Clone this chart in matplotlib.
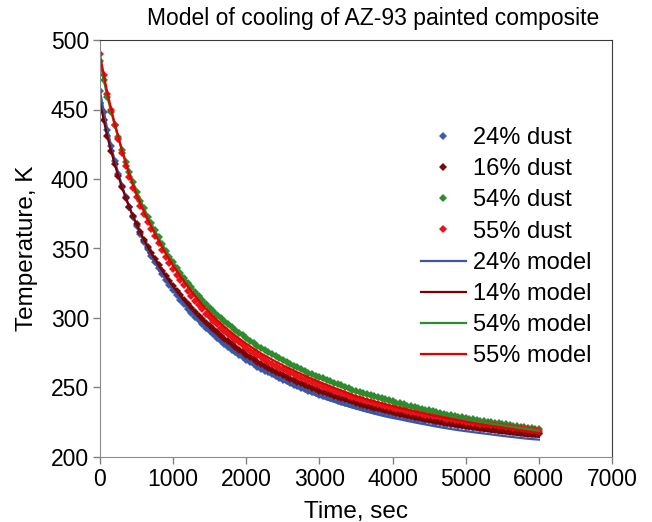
import matplotlib
matplotlib.use("Agg")
import matplotlib.pyplot as plt

plt.rcParams['font.family'] = ['Liberation Sans', 'DejaVu Sans']

# measured points, one every 50 s
time_dust = list(range(0, 6001, 50))
# model curves, one every 100 s
time_model = list(range(0, 6001, 100))

dust_24 = [463, 448.3, 435.4, 423.8, 413.3, 403.7, 395.1, 387.1, 379.7, 372.9,
           366.5, 360.6, 355, 349.7, 344.8, 340.1, 335.7, 331.5, 327.4, 323.6,
           320, 316.5, 313.1, 309.9, 306.8, 303.9, 301, 298.3, 295.6, 293,
           290.5, 288.2, 285.9, 283.7, 281.5, 279.4, 277.3, 275.3, 273.4, 271.6,
           269.8, 268.2, 266.6, 265.1, 263.6, 262.2, 260.8, 259.4, 258.1, 256.8,
           255.6, 254.4, 253.2, 252, 250.9, 249.8, 248.8, 247.8, 246.8, 245.8,
           244.9, 244, 243.1, 242.2, 241.4, 240.6, 239.8, 239, 238.3, 237.5,
           236.8, 236.1, 235.4, 234.7, 234.1, 233.4, 232.8, 232.2, 231.6, 231,
           230.5, 229.9, 229.4, 228.9, 228.4, 227.9, 227.4, 226.9, 226.5, 226,
           225.6, 225.2, 224.8, 224.4, 224, 223.6, 223.2, 222.8, 222.5, 222.1,
           221.8, 221.4, 221.1, 220.8, 220.5, 220.2, 219.9, 219.6, 219.3, 219,
           218.7, 218.4, 218.2, 217.9, 217.7, 217.4, 217.2, 216.9, 216.7, 216.4,
           216.2]

dust_16 = [455, 442.1, 430.6, 420.1, 410.7, 402, 394, 386.5, 379.7, 373.3,
           367.3, 361.6, 356.4, 351.4, 346.7, 342.2, 338, 333.9, 330.1, 326.4,
           322.8, 319.4, 316.2, 313.1, 310.1, 307.2, 304.4, 301.7, 299.1, 296.6,
           294.2, 291.9, 289.6, 287.4, 285.2, 283.1, 281.1, 279.2, 277.3, 275.4,
           273.6, 271.9, 270.3, 268.7, 267.2, 265.7, 264.3, 262.9, 261.5, 260.2,
           258.9, 257.6, 256.4, 255.2, 254.1, 253, 251.9, 250.8, 249.8, 248.8,
           247.8, 246.8, 245.9, 245, 244.1, 243.2, 242.4, 241.6, 240.8, 240,
           239.2, 238.4, 237.7, 237, 236.3, 235.6, 234.9, 234.2, 233.6, 233,
           232.4, 231.8, 231.2, 230.6, 230.1, 229.5, 229, 228.5, 228, 227.5,
           227, 226.5, 226.1, 225.6, 225.2, 224.8, 224.4, 224, 223.6, 223.2,
           222.9, 222.5, 222.2, 221.8, 221.5, 221.2, 220.9, 220.6, 220.3, 220,
           219.7, 219.4, 219.1, 218.8, 218.6, 218.3, 218.1, 217.8, 217.6, 217.3,
           217.1]

dust_54 = [485, 471, 459, 448.5, 439, 430, 421, 412.5, 405, 397.5,
           391, 384.5, 379, 373, 368, 363, 358, 353, 348.5, 344,
           340, 336, 332.5, 329, 325.5, 322, 319, 316, 313, 310,
           307.5, 305, 302.5, 300, 298, 295.5, 293.5, 291.5, 289.5, 287.5,
           285.5, 283.5, 282, 280, 278.5, 277, 275.5, 274, 272.5, 271,
           269.5, 268, 267, 265.5, 264.5, 263, 262, 260.5, 259.5, 258.5,
           257.5, 256.5, 255.5, 254.5, 253.5, 252.5, 251.5, 250.5, 249.5, 248.5,
           247.5, 246.8, 246, 245.2, 244.5, 243.8, 243, 242.2, 241.5, 240.8,
           240, 239.2, 238.5, 237.8, 237, 236.5, 236, 235.2, 234.5, 234,
           233.5, 233, 232.5, 231.8, 231, 230.5, 230, 229.5, 229, 228.5,
           228, 227.5, 227, 226.6, 226.2, 225.8, 225.4, 225, 224.6, 224.2,
           223.8, 223.4, 223, 222.6, 222.2, 221.9, 221.5, 221.2, 220.8, 220.4,
           220]

dust_55 = [490, 475, 461, 449.5, 439, 429, 418.5, 409.5, 401.5, 393.8,
           387, 380.5, 375, 369, 364, 359, 353.8, 348.7, 344.1, 339.5,
           335, 330.8, 327.1, 323.4, 319.6, 315.9, 312.5, 309.3, 306.2, 303.1,
           300.5, 298, 295.5, 293, 291, 288.5, 286.5, 284.5, 282.5, 280.5,
           278.5, 276.5, 275, 273.1, 271.6, 270.1, 268.6, 267.2, 265.7, 264.2,
           263, 261.8, 260.6, 259.4, 258.2, 257, 255.9, 254.8, 253.7, 252.6,
           251.5, 250.6, 249.6, 248.7, 247.7, 246.8, 245.9, 245, 244, 243.1,
           242.3, 241.4, 240.7, 240, 239.3, 238.7, 238, 237.3, 236.7, 236.1,
           235.5, 234.8, 234.2, 233.6, 232.9, 232.5, 232.1, 231.4, 230.9, 230.5,
           230, 229.6, 229.2, 228.6, 228, 227.6, 227.2, 226.8, 226.4, 226,
           225.5, 225.1, 224.7, 224.4, 224.1, 223.8, 223.5, 223.2, 222.9, 222.5,
           222, 221.7, 221.4, 221.1, 220.8, 220.6, 220.3, 220.1, 219.7, 219.4,
           219]

model_24 = [463, 435.4, 413.3, 395.1, 379.7, 366.5, 355, 344.8, 335.7, 327.4,
            320, 313.1, 306.8, 301, 295.6, 290.5, 285.8, 281.3, 277, 273,
            269.3, 266, 262.9, 260, 257.2, 254.6, 252.1, 249.7, 247.5, 245.4,
            243.4, 241.5, 239.7, 238, 236.4, 234.8, 233.3, 231.9, 230.5, 229.2,
            228.1, 227.1, 226, 224.9, 223.9, 222.9, 221.9, 221, 220.1, 219.3,
            218.6, 217.9, 217.2, 216.6, 215.9, 215.2, 214.6, 214, 213.4, 212.9,
            212.5]

model_14 = [455, 430.6, 410.7, 394, 379.7, 367.3, 356.4, 346.7, 338, 330.1,
            322.8, 316.2, 310.1, 304.4, 299.1, 294.2, 289.6, 285.2, 281.1, 277.3,
            273.6, 270, 266.9, 263.9, 261.1, 258.5, 256, 253.7, 251.4, 249.3,
            247.3, 245.2, 243.3, 241.6, 239.9, 238.3, 236.7, 235.2, 233.8, 232.4,
            231.2, 229.9, 228.7, 227.6, 226.6, 225.5, 224.5, 223.5, 222.6, 221.7,
            220.9, 220.1, 219.3, 218.6, 217.9, 217.2, 216.6, 215.9, 215.3, 214.8,
            214.5]

model_54 = [485, 459, 439, 421, 405, 391, 379, 368, 358, 348.5,
            340, 332.5, 325.5, 319, 313, 307.5, 302, 297.5, 293, 289,
            285, 281.5, 278, 275, 272, 269, 266, 263.5, 261, 258.5,
            256.5, 254.5, 252.5, 250.5, 248.5, 246.5, 244.8, 243.3, 241.8, 240.3,
            238.8, 237.4, 236.1, 234.9, 233.7, 232.5, 231.4, 230.3, 229.2, 228.1,
            227, 226.1, 225.2, 224.4, 223.6, 222.8, 222, 221.2, 220.5, 219.8,
            219]

model_55 = [489, 462, 440, 420.5, 403.5, 389, 376.8, 365.8, 355.8, 346.4,
            337.8, 330, 322.7, 315.9, 309.5, 303.7, 298.5, 293.8, 289.4, 285.3,
            281.5, 278, 274.6, 271.6, 268.7, 266, 263.4, 260.9, 258.5, 256.2,
            254, 251.9, 249.8, 247.8, 245.8, 243.8, 242.2, 240.7, 239.3, 238,
            236.7, 235.3, 234, 232.8, 231.6, 230.5, 229.4, 228.4, 227.4, 226.4,
            225.4, 224.4, 223.5, 222.6, 221.8, 221, 220.2, 219.4, 218.6, 217.8,
            217]

dust_series = [(dust_24, "24% dust", "#3C5DAA"),
               (dust_16, "16% dust", "#7A0A0A"),
               (dust_54, "54% dust", "#2D8C2D"),
               (dust_55, "55% dust", "#E8141A")]
model_series = [(model_24, "24% model", "#3A56A6"),
                (model_14, "14% model", "#7A0000"),
                (model_54, "54% model", "#2E8B2E"),
                (model_55, "55% model", "#E00000")]

fig = plt.figure(figsize=(6.52, 5.22), dpi=100)
ax = fig.add_axes([100/652, 1 - 457/522, 512/652, 417/522])

for vals, lab, col in dust_series:
    ax.plot(time_dust, vals, linestyle="none", marker="D", ms=3.9,
            mew=0, color=col, label=lab)
for vals, lab, col in model_series:
    ax.plot(time_model, vals, "-", lw=1.6, color=col, label=lab)

ax.set_xlim(0, 7000)
ax.set_ylim(200, 500)
ax.set_xticks(range(0, 7001, 1000))
ax.set_yticks(range(200, 501, 50))
ax.tick_params(labelsize=16.5, length=5, width=1, color="#808080", pad=3)

for side in ["left", "bottom"]:
    ax.spines[side].set_color("#8c8c8c")
for side in ["top", "right"]:
    ax.spines[side].set_color("#3a3a3a")

ax.set_xlabel("Time, sec", fontsize=17.5, labelpad=7)
ax.set_ylabel("Temperature, K", fontsize=17.5, labelpad=9)

fig.text(373/652, 1 - 19/522, "Model of cooling of AZ-93 painted composite",
         fontsize=16.5, ha="center", va="center")

ax.legend(loc="upper left", bbox_to_anchor=(421/652, 1 - 127/522),
          bbox_transform=fig.transFigure, frameon=False, fontsize=17,
          borderpad=0, borderaxespad=0, labelspacing=0.39,
          handlelength=1.9, handletextpad=0.3, markerscale=1.0)

fig.savefig("out.png", dpi=100)
